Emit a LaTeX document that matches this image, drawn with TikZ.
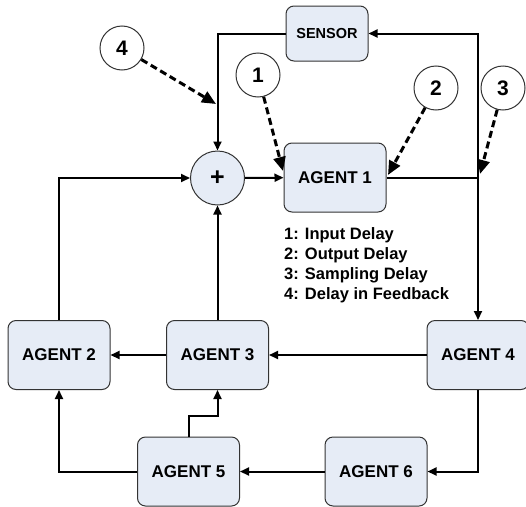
\documentclass[tikz,border=0pt]{standalone}
\usepackage{fontspec}
\setmainfont{Liberation Sans}
\usetikzlibrary{arrows.meta}
\definecolor{boxfill}{HTML}{E6ECF6}
\definecolor{boxline}{HTML}{333333}
\tikzset{
  agentbox/.style={draw=boxline, line width=1pt, fill=boxfill, rounded corners=8pt,
    minimum width=102pt, minimum height=69pt, inner sep=0pt,
    font=\fontsize{17}{20}\selectfont\bfseries},
  sensorbox/.style={agentbox, minimum width=82pt, minimum height=55pt,
    font=\fontsize{14.5}{17}\selectfont\bfseries},
  numcirc/.style={draw=boxline, line width=1pt, fill=white, circle, minimum size=44pt,
    inner sep=0pt, font=\fontsize{21}{24}\selectfont\bfseries},
  pluscirc/.style={draw=boxline, line width=1pt, fill=boxfill, circle, minimum size=54pt,
    inner sep=0pt, font=\fontsize{25}{28}\selectfont\bfseries},
  conn/.style={line width=2pt, -{Triangle[length=9pt,width=8pt]}},
  delayarrow/.style={line width=3pt, dash pattern=on 7pt off 4pt, -{Triangle[length=14pt,width=12pt]}},
}
\begin{document}
\begin{tikzpicture}[x=1pt,y=-1pt]
\useasboundingbox (0,0) rectangle (526,506);
% nodes
\node[sensorbox] (sensor) at (327,33.5) {SENSOR};
\node[agentbox] (agent1) at (335,177.5) {AGENT 1};
\node[agentbox] (agent2) at (59,355) {AGENT 2};
\node[agentbox] (agent3) at (217.5,355) {AGENT 3};
\node[agentbox] (agent4) at (478,355) {AGENT 4};
\node[agentbox] (agent5) at (188.5,471.5) {AGENT 5};
\node[agentbox] (agent6) at (376,471.5) {AGENT 6};
\node[pluscirc] (plus) at (217.5,178) {+};
\node[numcirc] (c1) at (258,75) {1};
\node[numcirc] (c2) at (436,88) {2};
\node[numcirc] (c3) at (503,88) {3};
\node[numcirc] (c4) at (122,48) {4};
\node[anchor=north west, align=left, inner sep=0pt,
  font=\fontsize{16.5}{20}\selectfont\bfseries] (legend) at (284,227)
  {1: Input Delay\\2: Output Delay\\3: Sampling Delay\\4: Delay in Feedback};
% junction coordinates
\coordinate (j) at (478,178);
\coordinate (t1) at (283,171);
\coordinate (t2) at (388,175);
\coordinate (t3) at (480,174);
\coordinate (t4) at (216,104);
% connectors
\draw[conn] (sensor.west) -| (plus.north);
\draw[conn] (plus) -- (agent1);
\draw[conn] (agent1.east) -| (agent4.north);
\draw[conn] (j) |- (sensor.east);
\draw[conn] (agent2.north) |- (plus.west);
\draw[conn] (agent3.north) -- (plus.south);
\draw[conn] (agent4) -- (agent3);
\draw[conn] (agent3) -- (agent2);
\draw[conn] (agent4.south) |- (agent6.east);
\draw[conn] (agent6) -- (agent5);
\draw[conn] (agent5.west) -| (agent2.south);
\draw[conn] (agent5.north) -- ++(0,-21) -| (agent3.south);
% delay arrows
\draw[delayarrow] (c4) -- (t4);
\draw[delayarrow] (c1) -- (t1);
\draw[delayarrow] (c2) -- (t2);
\draw[delayarrow] (c3) -- (t3);
\end{tikzpicture}
\end{document}
